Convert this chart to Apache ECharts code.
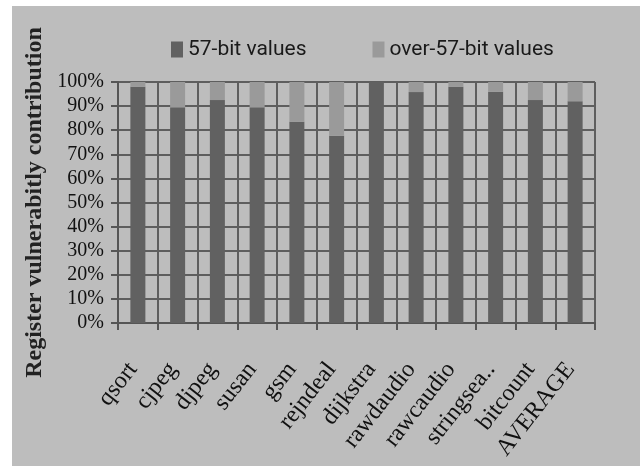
<!DOCTYPE html>
<html><head><meta charset="utf-8">
<script src="https://cdn.jsdelivr.net/npm/echarts@6/dist/echarts.min.js"></script>
<style>html,body{margin:0;padding:0;background:#fff}#c{width:640px;height:466px}</style>
</head><body><div id="c"></div>
<script>
const categories = ['qsort','cjpeg','djpeg','susan','gsm','rejndeal','dijkstra','rawdaudio','rawcaudio','stringsea..','bitcount','AVERAGE'];
const bits57 = [98, 89.5, 92.5, 89.5, 83.5, 77.7, 100, 95.8, 98, 96, 92.5, 92];
const over57 = [2, 10.5, 7.5, 10.5, 16.5, 22.3, 0, 4.2, 2, 4, 7.5, 8];
const yTicks = [0,10,20,30,40,50,60,70,80,90,100];

const chart = echarts.init(document.getElementById('c'), null, {renderer:'canvas'});
const serif = '"Liberation Serif", "DejaVu Serif", serif';
chart.setOption({
  animation:false,
  graphic:[{type:'rect', z:-10, shape:{x:12,y:6,width:628,height:460}, style:{fill:'#bdbdbd'}}],
  legend:{
    top:34, left:166, itemGap:66, itemWidth:12, itemHeight:16,
    icon:'rect',
    textStyle:{fontFamily:'Roboto, sans-serif', fontSize:21, color:'#1a1a1a'},
    data:['57-bit values','over-57-bit values']
  },
  grid:{left:118, right:45, top:82, bottom:143},
  xAxis:{
    type:'category', data:categories,
    axisLine:{lineStyle:{color:'#555', width:2}},
    axisTick:{show:true, length:7, lineStyle:{color:'#555', width:2}},
    splitLine:{show:true, lineStyle:{color:'#5e5e5e', width:2}},
    axisLabel:{rotate:52, margin:36, interval:0, padding:[0,8,0,0], fontFamily:serif, fontSize:24, color:'#111'}
  },
  yAxis:{
    type:'value', min:0, max:100, interval:10,
    name:'Register vulnerabitly contribution', nameLocation:'middle', nameGap:70,
    nameTextStyle:{fontFamily:serif, fontSize:24, fontWeight:'bold', color:'#222'},
    axisLine:{show:true, lineStyle:{color:'#555', width:2}},
    axisTick:{show:true, length:7, lineStyle:{color:'#555', width:2}},
    splitLine:{show:true, lineStyle:{color:'#5e5e5e', width:2}},
    axisLabel:{margin:14, fontFamily:serif, fontSize:20, color:'#111',
      formatter:v=>yTicks.includes(v)? v+'%':''}
  },
  series:[
    {name:'57-bit values', type:'bar', stack:'a', barWidth:15, data:bits57, itemStyle:{color:'#616161'}},
    {name:'over-57-bit values', type:'bar', stack:'a', barWidth:15, data:over57, itemStyle:{color:'#9a9a9a'}}
  ]
});
</script></body></html>
